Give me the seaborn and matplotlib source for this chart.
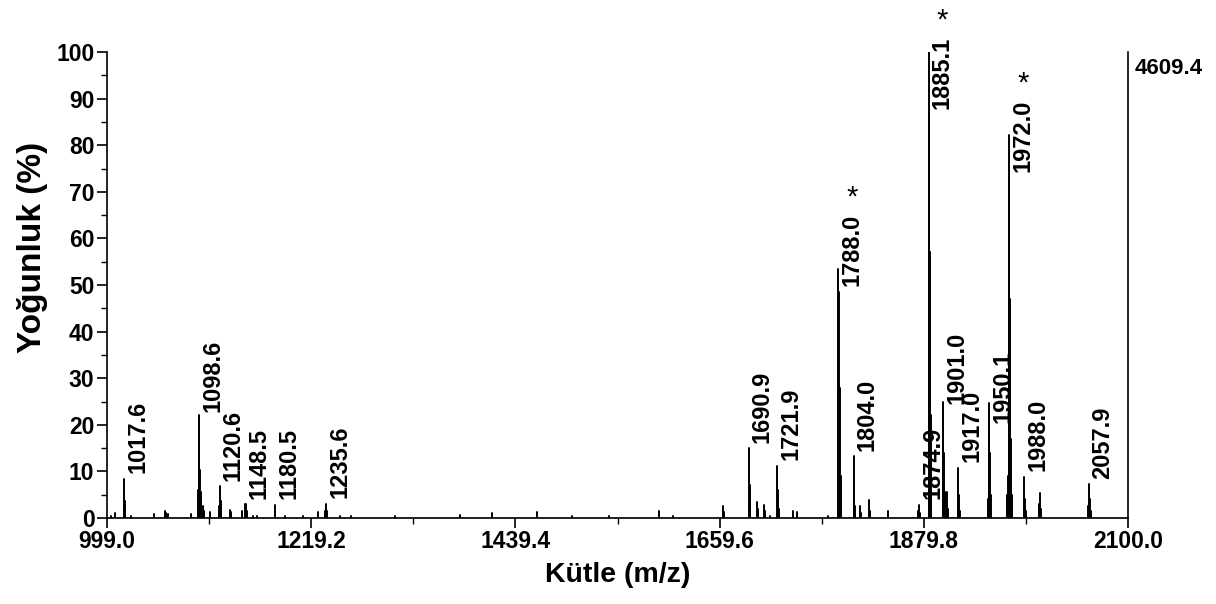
import numpy as np
import pandas as pd
import matplotlib
matplotlib.use("Agg")
import matplotlib.pyplot as plt
import seaborn as sns

# Labelled peaks: m/z and centroid intensity (% of base peak)
peak_mz = [1017.6, 1098.6, 1120.6, 1148.5, 1180.5, 1235.6, 1690.9, 1721.9, 1788.0,
           1804.0, 1874.9, 1885.1, 1901.0, 1917.0, 1950.1, 1972.0, 1988.0, 2057.9]
peak_int = [8.4, 21.6, 6.8, 2.9, 2.8, 3.0, 15.0, 11.2, 48.5,
            13.2, 2.8, 86.5, 23.2, 10.8, 19.3, 73.0, 8.8, 7.2]

# Profile apex points next to the labelled centroids
apex_mz = [1098.4, 1787.8, 1884.9, 1900.8, 1949.9, 1971.8]
apex_int = [22.1, 53.5, 100.0, 25.0, 24.7, 82.2]

# Isotope peaks and minor signals
minor_mz = [1003.0, 1008.0, 1018.6, 1025.0, 1050.0, 1061.5, 1062.5, 1065.0, 1090.0,
            1097.6, 1099.6, 1100.6, 1102.0, 1104.0, 1110.0, 1119.6, 1121.6, 1132.0,
            1133.0, 1145.0, 1147.5, 1149.5, 1156.0, 1161.0, 1191.0, 1210.0, 1227.0,
            1234.6, 1236.6, 1250.0, 1262.0, 1310.0, 1380.0, 1414.0, 1463.0, 1500.0,
            1540.0, 1594.0, 1609.0, 1663.5, 1664.5, 1691.9, 1692.9, 1700.0, 1701.0,
            1707.5, 1708.5, 1714.0, 1722.9, 1723.9, 1739.0, 1743.0, 1776.0, 1789.0,
            1790.0, 1791.0, 1805.0, 1806.0, 1811.0, 1812.0, 1821.0, 1822.0, 1841.0,
            1873.9, 1875.9, 1886.1, 1887.1, 1888.1, 1902.0, 1903.0, 1905.0, 1906.0,
            1918.0, 1919.0, 1948.9, 1951.1, 1952.1, 1969.9, 1970.9, 1973.0, 1974.0,
            1975.0, 1989.0, 1990.0, 2004.0, 2005.0, 2006.0, 2056.9, 2058.9, 2059.9]
minor_int = [0.5, 1.0, 3.6, 0.5, 0.8, 1.5, 1.1, 0.8, 0.8,
             6.0, 10.4, 5.5, 2.5, 1.5, 1.2, 2.5, 3.6, 1.8,
             1.2, 1.5, 2.9, 1.5, 0.5, 0.5, 0.5, 0.5, 1.2,
             1.5, 1.4, 0.5, 0.5, 0.4, 0.6, 1.0, 1.2, 0.4,
             0.4, 1.5, 0.5, 2.5, 1.2, 7.0, 2.5, 3.5, 2.0,
             2.8, 1.4, 0.5, 6.0, 2.0, 1.5, 1.2, 0.5, 28.0,
             9.0, 2.5, 7.0, 2.5, 2.5, 1.0, 3.9, 1.5, 1.5,
             1.5, 1.0, 57.0, 22.0, 6.0, 14.0, 5.5, 5.5, 2.0,
             5.0, 1.5, 4.0, 14.0, 5.0, 5.0, 9.0, 47.0, 17.0,
             5.0, 4.0, 1.5, 3.0, 5.3, 2.0, 2.5, 4.0, 1.5]

# Axis scale of the spectrum
mz_min, mz_max = 999.0, 2100.0
major_ticks = [999.0, 1219.2, 1439.4, 1659.6, 1879.8, 2100.0]
max_counts = "4609.4"
starred = [1788.0, 1885.1, 1972.0]

# Build a long table with one stick (0 -> intensity) per signal
all_mz = peak_mz + apex_mz + minor_mz
all_int = peak_int + apex_int + minor_int
rows = []
for i, (m, h) in enumerate(zip(all_mz, all_int)):
    rows.append({"stick": i, "mz": m, "intensity": 0.0})
    rows.append({"stick": i, "mz": m, "intensity": h})
spec = pd.DataFrame(rows)

sns.set_theme(style="white")
font = ["Liberation Sans", "DejaVu Sans"]
plt.rcParams["font.family"] = font

fig = plt.figure(figsize=(12.16, 6.04), dpi=100)
ax = fig.add_axes([107 / 1216, 86 / 604, 1021 / 1216, 466 / 604])

sns.lineplot(data=spec, x="mz", y="intensity", units="stick", estimator=None,
             sort=False, color="black", linewidth=1.4, legend=False, ax=ax)
ax.plot([mz_min, mz_max], [0, 0], color="black", linewidth=1.0)

ax.set_xlim(mz_min, mz_max)
ax.set_ylim(0, 100)

# spines
for side in ["left", "bottom", "right"]:
    ax.spines[side].set_visible(True)
    ax.spines[side].set_color("black")
    ax.spines[side].set_linewidth(1.2)
ax.spines["top"].set_visible(False)

# ticks
ax.set_xticks(major_ticks)
ax.set_xticklabels([f"{v:.1f}" for v in major_ticks])
minor_x = [(a + b) / 2 for a, b in zip(major_ticks[:-1], major_ticks[1:])]
ax.set_xticks(minor_x, minor=True)
ax.set_yticks(np.arange(0, 101, 10))
ax.set_yticks(np.arange(5, 100, 10), minor=True)
ax.tick_params(axis="both", which="major", direction="out", length=7, width=1.2,
               color="black", bottom=True, left=True, right=False, top=False, pad=2)
ax.tick_params(axis="both", which="minor", direction="out", length=4, width=1.0,
               color="black", bottom=True, left=True, right=False, top=False)
for lab in ax.get_xticklabels() + ax.get_yticklabels():
    lab.set_fontweight("bold")
    lab.set_fontsize(16.5)
    lab.set_color("black")

ax.set_xlabel("Kütle (m/z)", fontweight="bold", fontsize=20.5, color="black")
ax.set_ylabel("Yoğunluk (%)", fontweight="bold", fontsize=24, color="black")
ax.xaxis.set_label_coords(0.5, -0.094)
ax.yaxis.set_label_coords(-0.058, 0.58)

ax.text(1.006, 0.965, max_counts, transform=ax.transAxes, ha="left", va="center",
        fontweight="bold", fontsize=16, color="black")

# peak labels, with a star over the marked ones
for m, h in zip(peak_mz, peak_int):
    t = ax.annotate(f"{m:.1f}", xy=(m, h), xytext=(1.5, 4), textcoords="offset points",
                    rotation=90, ha="left", va="bottom", fontsize=17, fontweight="bold",
                    color="black", annotation_clip=False)
    if m in starred:
        ax.annotate("*", xy=(0.5, 1.0), xycoords=t, xytext=(0, 2),
                    textcoords="offset points", ha="center", va="bottom",
                    fontsize=21, color="black", annotation_clip=False)

fig.savefig("out.png", dpi=100)
